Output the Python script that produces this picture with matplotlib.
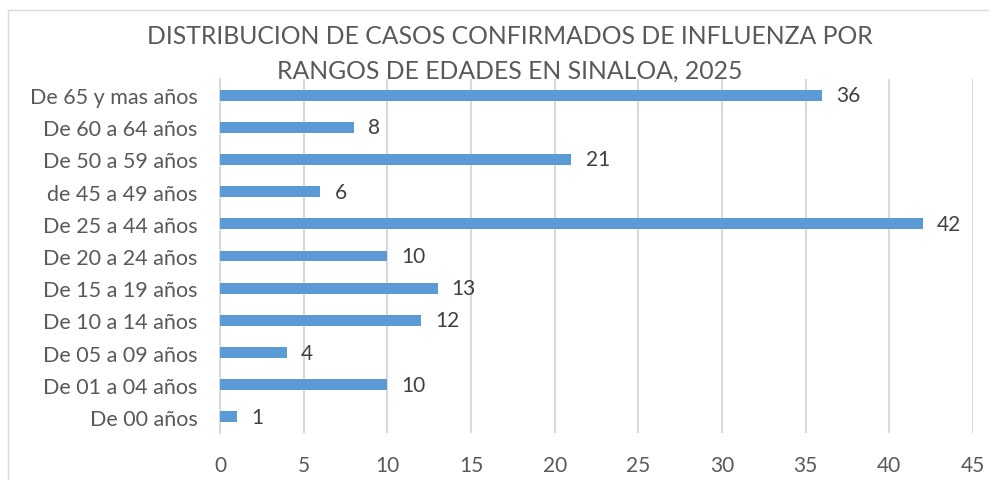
import matplotlib.pyplot as plt
from matplotlib.patches import Rectangle

categorias = ['De 00 años', 'De 01 a 04 años', 'De 05 a 09 años', 'De 10 a 14 años',
              'De 15 a 19 años', 'De 20 a 24 años', 'De 25 a 44 años', 'de 45 a 49 años',
              'De 50 a 59 años', 'De 60 a 64 años', 'De 65 y mas años']
casos = [1, 10, 4, 12, 13, 10, 42, 6, 21, 8, 36]
ticks_x = [0, 5, 10, 15, 20, 25, 30, 35, 40, 45]

plt.rcParams['font.family'] = ['Lato', 'DejaVu Sans']
gris = '#595959'

fig = plt.figure(figsize=(9.89, 4.81), dpi=100)
ax = fig.add_axes([220/989, 47/481, 753/989, 354/481])

y = range(len(categorias))
ax.barh(y, casos, height=0.34, color='#5B9BD5', zorder=3)
for i, v in enumerate(casos):
    ax.text(v + 0.85, i, str(v), va='center', ha='left', fontsize=15, color='#404040')

ax.set_xlim(0, 45)
ax.set_ylim(-0.5, len(categorias) - 0.5)
ax.set_xticks(ticks_x)
ax.set_yticks(list(y))
ax.set_yticklabels(categorias)
ax.tick_params(axis='x', labelsize=15, colors=gris, length=0, pad=16)
ax.tick_params(axis='y', labelsize=15.5, colors=gris, length=0, pad=16)
ax.grid(axis='x', color='#D9D9D9', linewidth=1.5, zorder=0)
for s in ['top', 'right', 'bottom']:
    ax.spines[s].set_visible(False)
ax.spines['left'].set_color('#D9D9D9')
ax.spines['left'].set_linewidth(1.5)

fig.text(510/989, 1 - 36/481, 'DISTRIBUCION DE CASOS CONFIRMADOS DE INFLUENZA POR',
         ha='center', va='center', fontsize=17.8, color=gris)
fig.text(510/989, 1 - 71/481, 'RANGOS DE EDADES EN SINALOA, 2025',
         ha='center', va='center', fontsize=17.8, color=gris)

fig.patches.append(Rectangle((8/989, -0.1), 1.1, 1 - 11/481 + 0.1, transform=fig.transFigure,
                             fill=False, edgecolor='#D9D9D9', linewidth=1, figure=fig))

fig.savefig('out.png', dpi=100, facecolor='white')
